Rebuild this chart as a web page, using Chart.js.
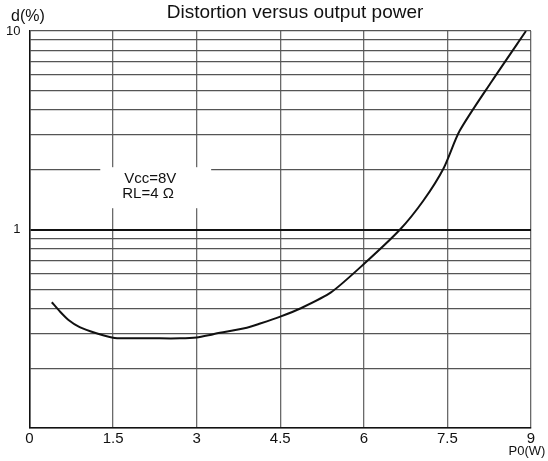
<!DOCTYPE html>
<html>
<head>
<meta charset="utf-8">
<script src="https://cdn.jsdelivr.net/npm/chart.js@4/dist/chart.umd.min.js"></script>
<style>
  html, body { margin: 0; padding: 0; background: #fff; }
  #wrap { width: 548px; height: 461px; position: relative; }
</style>
</head>
<body>
<div id="wrap"><canvas id="distChart"></canvas></div>
<script>
// ─── Data ─────────────────────────────────────────────────────────────────────
const powerW = [0.4, 0.55, 0.7, 0.9, 1.2, 1.5, 1.7, 2.2, 2.7, 3.0, 3.3, 3.9, 4.14, 4.5, 4.86, 5.41, 6.0, 6.65, 7.07, 7.43, 7.72, 8.3, 8.91];
const distortion = [0.43, 0.385, 0.35, 0.322, 0.30, 0.285, 0.283, 0.283, 0.283, 0.286, 0.297, 0.32, 0.336, 0.364, 0.40, 0.482, 0.67, 1.0, 1.4, 2.03, 3.14, 5.6, 10];
const xTicks = [0, 1.5, 3, 4.5, 6, 7.5, 9];
const yTicks = [0.1, 0.2, 0.3, 0.4, 0.5, 0.6, 0.7, 0.8, 0.9, 1, 2, 3, 4, 5, 6, 7, 8, 9, 10];
const yLabels = [1, 10];
const noteLines = ['Vcc=8V', 'RL=4 \u03A9'];

const FONT = 'Liberation Sans, Arial, sans-serif';

// ── labels, note box and title drawn on the canvas ───────────────────────────
const decorPlugin = {
  id: 'decor',
  beforeDatasetsDraw(chart) {
    const { ctx, scales: { x, y } } = chart;
    // white box behind the note, covers the grid
    const x0 = x.getPixelForValue(1.27), x1 = x.getPixelForValue(3.26);
    const y0 = y.getPixelForValue(2.06), y1 = y.getPixelForValue(1.28);
    ctx.save();
    ctx.fillStyle = '#fff';
    ctx.fillRect(x0, y0, x1 - x0, y1 - y0);
    ctx.fillStyle = '#111';
    ctx.font = '15px ' + FONT;
    ctx.textBaseline = 'middle';
    ctx.fillText(noteLines[0], x0 + 24, y0 + 12);
    ctx.fillText(noteLines[1], x0 + 22, y0 + 27);
    ctx.restore();
  },
  afterDraw(chart) {
    const { ctx } = chart;
    ctx.save();
    ctx.fillStyle = '#111';
    ctx.textBaseline = 'middle';
    ctx.font = '19px ' + FONT;
    ctx.textAlign = 'center';
    ctx.fillText('Distortion versus output power', 295, 13);
    ctx.textAlign = 'left';
    ctx.font = '16px ' + FONT;
    ctx.fillText('d(%)', 11, 17);
    ctx.font = '13px ' + FONT;
    ctx.textAlign = 'center';
    ctx.fillText('P0(W)', 527, 451);
    ctx.restore();
  },
};

new Chart(document.getElementById('distChart'), {
  type: 'line',
  data: {
    datasets: [{
      data: powerW.map((p, i) => ({ x: p, y: distortion[i] })),
      borderColor: '#111',
      borderWidth: 2,
      pointRadius: 0,
      fill: false,
      tension: 0.25,
    }],
  },
  options: {
    responsive: true,
    maintainAspectRatio: false,
    animation: false,
    events: [],
    layout: { padding: { top: 31, right: 17, left: 0, bottom: 0 } },
    plugins: { legend: { display: false }, tooltip: { enabled: false } },
    scales: {
      x: {
        type: 'linear',
        min: 0, max: 9,
        afterBuildTicks: (s) => { s.ticks = xTicks.map(v => ({ value: v })); },
        afterFit: (s) => { s.height = 33; },
        grid: { color: '#6a6a6a', lineWidth: 1.3, drawTicks: false },
        border: { color: '#111', width: 1.5 },
        ticks: {
          font: { family: FONT, size: 15 },
          color: '#111',
          padding: 2,
          maxRotation: 0,
          autoSkip: false,
        },
      },
      y: {
        type: 'logarithmic',
        min: 0.1, max: 10,
        afterBuildTicks: (s) => { s.ticks = yTicks.map(v => ({ value: v })); },
        afterFit: (s) => { s.width = 29.5; },
        grid: {
          color: (c) => (c.tick && c.tick.value === 1 ? '#111' : '#555'),
          lineWidth: (c) => (c.tick && c.tick.value === 1 ? 2 : 1.3),
          drawTicks: false,
        },
        border: { color: '#111', width: 1.5 },
        ticks: {
          font: { family: FONT, size: 13 },
          color: '#111',
          autoSkip: false,
          crossAlign: 'near',
          padding: 9,
          callback: (v) => (yLabels.includes(v) ? String(v) : ''),
        },
      },
    },
  },
  plugins: [decorPlugin],
});
</script>
</body>
</html>
